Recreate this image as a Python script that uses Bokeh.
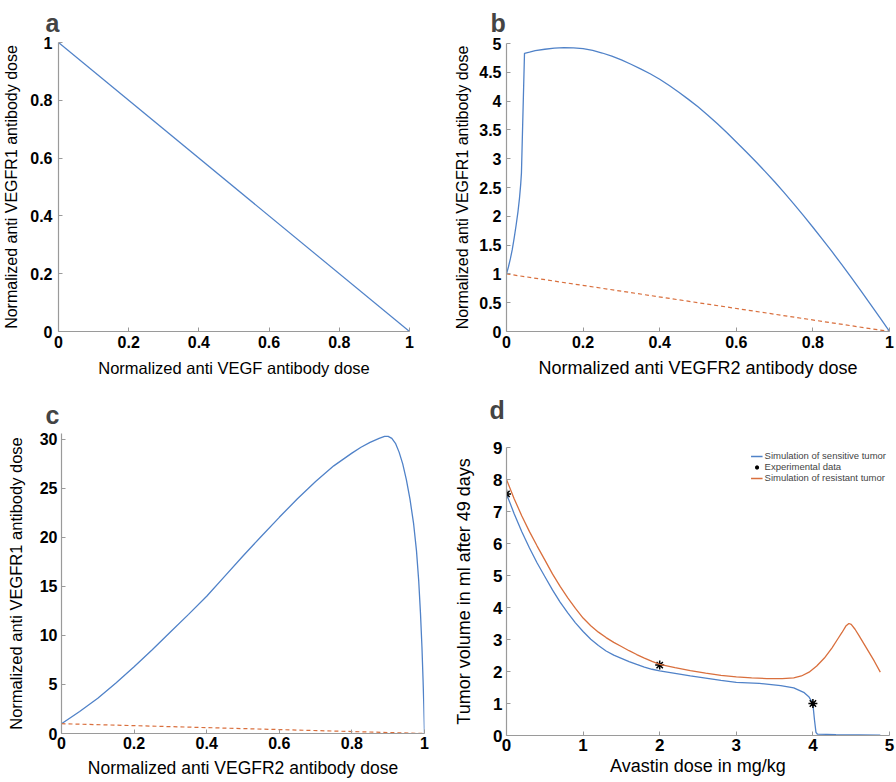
from bokeh.plotting import figure
from bokeh.layouts import column, row
from bokeh.models import Range1d, FixedTicker, Title
from bokeh.embed import file_html
from bokeh.resources import INLINE

# ---------------- data ----------------
# panel a
a_x = [0.0, 1.0]
a_y = [1.0, 0.0]
a_ticks = [0, 0.2, 0.4, 0.6, 0.8, 1]
a_tick_labels = ["0", "0.2", "0.4", "0.6", "0.8", "1"]

# panel b
b_x = [0.0, 0.005, 0.01, 0.015, 0.02, 0.025, 0.03, 0.034, 0.037, 0.039, 0.047, 0.06, 0.075,
       0.1, 0.125, 0.15, 0.175, 0.2, 0.225, 0.25, 0.275, 0.3, 0.325, 0.35, 0.375, 0.4,
       0.425, 0.45, 0.475, 0.5, 0.525, 0.55, 0.575, 0.6, 0.625, 0.65, 0.675, 0.7, 0.725,
       0.75, 0.775, 0.8, 0.825, 0.85, 0.875, 0.9, 0.925, 0.95, 0.975, 1.0]
b_y = [1.0, 1.12, 1.26, 1.42, 1.62, 1.84, 2.08, 2.32, 2.55, 2.75, 4.83, 4.85, 4.875,
       4.90, 4.92, 4.93, 4.925, 4.91, 4.88, 4.835, 4.78, 4.715, 4.64, 4.56, 4.475, 4.38,
       4.27, 4.155, 4.03, 3.90, 3.76, 3.61, 3.455, 3.29, 3.125, 2.955, 2.78, 2.60, 2.41,
       2.215, 2.015, 1.81, 1.60, 1.385, 1.165, 0.94, 0.71, 0.475, 0.24, 0.0]
b_ref_x = [0.0, 1.0]
b_ref_y = [1.0, 0.0]
b_xticks = [0, 0.2, 0.4, 0.6, 0.8, 1]
b_xtick_labels = ["0", "0.2", "0.4", "0.6", "0.8", "1"]
b_yticks = [0, 0.5, 1, 1.5, 2, 2.5, 3, 3.5, 4, 4.5, 5]
b_ytick_labels = ["0", "0.5", "1", "1.5", "2", "2.5", "3", "3.5", "4", "4.5", "5"]

# panel c
c_x = [0.0, 0.05, 0.1, 0.15, 0.2, 0.25, 0.3, 0.35, 0.4, 0.45, 0.5, 0.55, 0.6, 0.65, 0.7,
       0.75, 0.8, 0.825, 0.85, 0.875, 0.89, 0.9, 0.91, 0.92, 0.93, 0.94, 0.95, 0.96,
       0.97, 0.978, 0.984, 0.989, 0.993, 0.996, 0.998, 1.0]
c_y = [1.0, 2.25, 3.6, 5.15, 6.8, 8.55, 10.35, 12.15, 14.0, 16.05, 18.1, 20.1, 22.05, 23.95,
       25.7, 27.3, 28.6, 29.2, 29.7, 30.1, 30.3, 30.3, 30.1, 29.6, 28.7, 27.5, 25.9, 23.9,
       21.4, 18.6, 15.6, 12.2, 8.8, 5.5, 3.0, 0.0]
c_ref_x = [0.0, 1.0]
c_ref_y = [1.0, 0.0]
c_xticks = [0, 0.2, 0.4, 0.6, 0.8, 1]
c_xtick_labels = ["0", "0.2", "0.4", "0.6", "0.8", "1"]
c_yticks = [0, 5, 10, 15, 20, 25, 30]
c_ytick_labels = ["0", "5", "10", "15", "20", "25", "30"]

# panel d
d_sens_x = [0.0, 0.1, 0.2, 0.3, 0.4, 0.5, 0.6, 0.7, 0.8, 0.9, 1.0, 1.1, 1.2, 1.3, 1.4, 1.5,
            1.6, 1.7, 1.8, 1.9, 2.0, 2.2, 2.4, 2.6, 2.8, 3.0, 3.3, 3.58, 3.75, 3.88, 3.95,
            3.99, 4.0, 4.02, 4.04, 4.06, 4.3, 4.6, 4.88]
d_sens_y = [7.55, 6.93, 6.37, 5.86, 5.39, 4.97, 4.55, 4.17, 3.83, 3.52, 3.25, 3.01, 2.81,
            2.64, 2.51, 2.41, 2.31, 2.22, 2.14, 2.07, 2.02, 1.94, 1.86, 1.79, 1.72, 1.66,
            1.63, 1.56, 1.49, 1.35, 1.2, 1.04, 0.98, 0.5, 0.1, 0.04, 0.03, 0.02, 0.01]
d_res_x = [0.0, 0.1, 0.2, 0.3, 0.4, 0.5, 0.6, 0.7, 0.8, 0.9, 1.0, 1.1, 1.2, 1.3, 1.4, 1.5,
           1.6, 1.7, 1.8, 1.9, 2.0, 2.2, 2.4, 2.6, 2.8, 3.0, 3.2, 3.4, 3.6, 3.75, 3.85,
           3.95, 4.05, 4.15, 4.25, 4.32, 4.38, 4.43, 4.47, 4.5, 4.55, 4.6, 4.7, 4.8, 4.88]
d_res_y = [8.0, 7.4, 6.86, 6.37, 5.92, 5.49, 5.05, 4.66, 4.30, 3.97, 3.67, 3.43, 3.23, 3.06,
           2.91, 2.78, 2.65, 2.53, 2.42, 2.315, 2.22, 2.12, 2.03, 1.95, 1.88, 1.83, 1.80,
           1.78, 1.775, 1.80, 1.86, 1.98, 2.17, 2.42, 2.74, 3.0, 3.22, 3.42, 3.5, 3.47,
           3.32, 3.13, 2.73, 2.33, 1.98]
d_exp_x = [0.0, 2.0, 4.0]
d_exp_y = [7.55, 2.2, 1.0]
d_xticks = [0, 1, 2, 3, 4, 5]
d_xtick_labels = ["0", "1", "2", "3", "4", "5"]
d_yticks = [0, 1, 2, 3, 4, 5, 6, 7, 8, 9]
d_ytick_labels = ["0", "1", "2", "3", "4", "5", "6", "7", "8", "9"]

BLUE = "#5082c8"
ORANGE = "#d96f3d"
AXIS = "#9a9a9a"
FONT = "Liberation Sans"


def style_title(t, letter, offset, standoff):
    t.text = letter
    t.text_font = FONT
    t.text_font_size = "25px"
    t.text_font_style = "bold"
    t.align = "left"
    t.offset = offset
    t.standoff = standoff


def make_fig(xr, yr, borders, letter, letter_offset, letter_standoff,
             xticks, xlabels, yticks, ylabels, xlabel, ylabel,
             tick_size, xlabel_size, ylabel_size, x_tick_standoff, y_tick_standoff,
             x_label_standoff, y_label_standoff, spacer=None):
    left, right, top, bottom = borders
    p = figure(width=448, height=391, output_backend="svg", toolbar_location=None,
               x_range=Range1d(*xr), y_range=Range1d(*yr),
               min_border_left=left, min_border_right=right,
               min_border_top=top, min_border_bottom=bottom)
    p.outline_line_color = None
    p.xgrid.visible = False
    p.ygrid.visible = False
    if spacer is None:
        style_title(p.title, letter, letter_offset, letter_standoff)
    else:
        p.title.text = ""
        p.add_layout(Title(text=" ", text_font_size="2px", standoff=spacer), "above")
        t = Title()
        style_title(t, letter, letter_offset, letter_standoff)
        p.add_layout(t, "above")
    for ax, ticks, labels, ts, ls, lab, lsize in (
            (p.xaxis[0], xticks, xlabels, x_tick_standoff, x_label_standoff, xlabel, xlabel_size),
            (p.yaxis[0], yticks, ylabels, y_tick_standoff, y_label_standoff, ylabel, ylabel_size)):
        ax.ticker = FixedTicker(ticks=ticks)
        ax.major_label_overrides = {t: l for t, l in zip(ticks, labels)}
        ax.axis_line_color = AXIS
        ax.axis_line_width = 1.2
        ax.major_tick_line_color = AXIS
        ax.major_tick_in = 4
        ax.major_tick_out = 0
        ax.minor_tick_line_color = None
        ax.major_label_text_font = FONT
        ax.major_label_text_font_style = "bold"
        ax.major_label_text_font_size = tick_size
        ax.major_label_text_color = "black"
        ax.major_label_standoff = ts
        ax.axis_label = lab
        ax.axis_label_text_font = FONT
        ax.axis_label_text_font_style = "normal"
        ax.axis_label_text_font_size = lsize
        ax.axis_label_text_color = "black"
        ax.axis_label_standoff = ls
    return p


pa = make_fig((0, 1), (0, 1), (58, 39, 42, 60), "a", -13, 12,
              a_ticks, a_tick_labels, a_ticks, a_tick_labels,
              "Normalized anti VEGF antibody dose", "Normalized anti VEGFR1 antibody dose",
              "16px", "16.5px", "16px", 4, 6, 8, 7)
pa.line(a_x, a_y, line_color=BLUE, line_width=1.2)

pb = make_fig((0, 1), (0, 5), (58, 7, 43, 60), "b", -16, 13,
              b_xticks, b_xtick_labels, b_yticks, b_ytick_labels,
              "Normalized anti VEGFR2 antibody dose", "Normalized anti VEGFR1 antibody dose",
              "16px", "18px", "16px", 4, 5, 7, 5)
pb.line(b_x, b_y, line_color=BLUE, line_width=1.3)
pb.line(b_ref_x, b_ref_y, line_color=ORANGE, line_width=1.2, line_dash="4 3")

pc = make_fig((0, 1), (0, 30.6), (61, 24, 42, 49), "c", -16, 10,
              c_xticks, c_xtick_labels, c_yticks, c_ytick_labels,
              "Normalized anti VEGFR2 antibody dose", "Normalized anti VEGFR1 antibody dose",
              "16px", "17.5px", "16.5px", 3, 4, 6, 12)
pc.line(c_x, c_y, line_color=BLUE, line_width=1.3)
pc.line(c_ref_x, c_ref_y, line_color=ORANGE, line_width=1.2, line_dash="4 3")

pd = make_fig((0, 5), (0, 9), (58, 7, 56, 47), "d", -17, 0,
              d_xticks, d_xtick_labels, d_yticks, d_ytick_labels,
              "Avastin dose in mg/kg", "Tumor volume in ml after 49 days",
              "17px", "18px", "18px", 3, 4, 2, 16, spacer=20)
pd.line(d_sens_x, d_sens_y, line_color=BLUE, line_width=1.3,
        legend_label="Simulation of sensitive tumor")
pd.scatter(d_exp_x, d_exp_y, marker="asterisk", size=9, line_color="black",
           line_width=1.5, legend_label="Experimental data")
pd.line(d_res_x, d_res_y, line_color=ORANGE, line_width=1.3,
        legend_label="Simulation of resistant tumor")
lg = pd.legend[0]
lg.location = "top_right"
lg.border_line_color = None
lg.background_fill_alpha = 0
lg.label_text_font = FONT
lg.label_text_font_size = "9.5px"
lg.glyph_width = 12
lg.glyph_height = 10
lg.label_height = 10
lg.label_standoff = 2
lg.spacing = 0
lg.padding = 2
lg.margin = 3

layout = column(row(column(pa), column(pb)), row(column(pc), column(pd)))
open("out.html", "w").write(file_html(layout, INLINE))
